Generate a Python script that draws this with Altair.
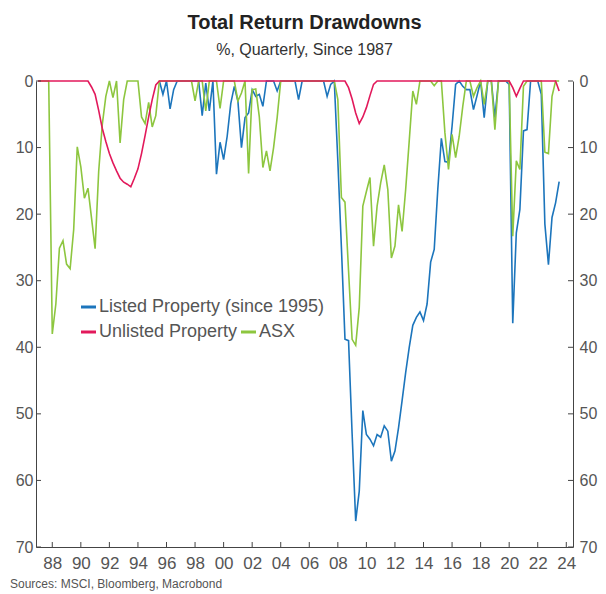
import altair as alt
import pandas as pd

FONT = "Liberation Sans"

# ---------------- data (quarterly drawdowns, %) ----------------
first_quarter = 1987.0          # first observation of Unlisted Property and ASX
listed_first_quarter = 1995.5   # Listed Property starts mid-1995

listed = [
    0, 2.0,
    0, 4.2, 1.3, 0,
    0, 0, 0, 0,
    0, 0, 5.2, 0.3,
    4.5, 0, 14.0, 9.2,
    11.8, 8.3, 3.4, 0.8,
    3.0, 10.0, 5.5, 4.8,
    1.3, 2.3, 2.0, 3.8,
    0, 0, 0, 1.5,
    0, 0, 0, 0,
    0, 2.8, 0, 0,
    0, 0, 0, 0,
    0, 2.3, 0.5, 0,
    12.0, 25.0, 38.8, 39.0,
    53.0, 66.1, 61.6, 49.5,
    53.1, 53.8, 54.8, 53.1,
    53.5, 51.8, 52.6, 57.1,
    55.6, 52.1, 48.0, 43.8,
    40.0, 36.7, 35.5, 34.7,
    36.0, 33.5, 27.2, 25.3,
    16.3, 8.6, 12.1, 12.2,
    6.8, 0.5, 0, 0.8,
    1.3, 1.3, 4.3, 2.2,
    0, 5.5, 0, 0,
    5.5, 0, 0, 0,
    0.5, 36.4, 22.8, 19.3,
    7.5, 7.3, 0, 0,
    0, 2.0, 21.5, 27.6,
    20.5, 18.3, 15.1,
]

unlisted = [
    0, 0, 0, 0,
    0, 0, 0, 0,
    0, 0, 0, 0,
    0, 0, 0, 0.9,
    2.0, 4.4, 7.1, 9.1,
    10.9, 12.3, 13.5, 14.6,
    15.2, 15.5, 15.9, 14.6,
    13.2, 10.9, 8.2, 5.4,
    2.8, 0.6, 0, 0,
    0, 0, 0, 0,
    0, 0, 0, 0,
    0, 0, 0, 0,
    0, 0, 0, 0,
    0, 0, 0, 0,
    0, 0, 0, 0,
    0, 0, 0, 0,
    0, 0, 0, 0,
    0, 0, 0, 0,
    0, 0, 0, 0,
    0, 0, 0, 0,
    0, 0, 0, 0,
    0, 0, 0, 1.0,
    2.7, 4.8, 6.4, 5.4,
    4.0, 2.2, 0.5, 0,
    0, 0, 0, 0,
    0, 0, 0, 0,
    0, 0, 0, 0,
    0, 0, 0, 0,
    0, 0, 0, 0,
    0, 0, 0, 0,
    0, 0, 0, 0,
    0, 0, 0, 0,
    0, 0, 0, 0,
    0, 1.0, 2.3, 1.1,
    0, 0, 0, 0,
    0, 0, 0, 0,
    0, 0, 1.5,
]

asx = [
    0, 0, 0, 0,
    38.0, 33.5, 25.1, 24.0,
    27.5, 28.2, 22.3, 9.9,
    12.9, 17.6, 16.1, 20.6,
    25.2, 13.6, 6.6, 2.3,
    0, 2.5, 0, 9.3,
    2.8, 0, 0, 0,
    0, 5.4, 6.4, 3.2,
    6.9, 5.2, 0, 0,
    0, 0, 0, 0,
    0, 0, 0, 0,
    3.0, 0, 0, 4.5,
    0, 0, 0, 4.1,
    0, 0, 0, 0,
    3.0, 1.8, 0, 13.9,
    1.3, 1.2, 5.4, 13.0,
    10.5, 13.5, 10.0, 5.5,
    0, 0, 0, 0,
    0, 0, 0, 0,
    0, 0, 0, 0,
    0, 0, 0, 0,
    2.8, 17.5, 18.2, 28.5,
    38.8, 39.7, 34.0, 18.8,
    16.6, 14.5, 24.8, 18.8,
    15.3, 12.6, 16.3, 26.6,
    24.8, 18.6, 22.6, 16.3,
    9.0, 1.5, 3.5, 0,
    0, 0, 0, 0.7,
    0, 0, 7.8, 13.3,
    8.0, 11.5, 8.3, 3.8,
    0, 0, 2.3, 1.0,
    0, 3.5, 0, 0,
    7.3, 0, 0, 0,
    0, 23.3, 12.0, 13.3,
    0.8, 0, 0, 0,
    0, 0, 10.7, 10.9,
    2.3, 0, 0,
]

series_names = ["Listed Property (since 1995)", "Unlisted Property", "ASX"]
series_colors = ["#1c75bc", "#e2195b", "#8dc63f"]
x_tick_years = list(range(1988, 2025, 2))
y_ticks = [0, 10, 20, 30, 40, 50, 60, 70]
title_text = "Total Return Drawdowns"
subtitle_text = "%, Quarterly, Since 1987"
source_text = "Sources: MSCI, Bloomberg, Macrobond"

# ---------------- tables ----------------
rows = []
for name, vals, start in [
    (series_names[0], listed, listed_first_quarter),
    (series_names[1], unlisted, first_quarter),
    (series_names[2], asx, first_quarter),
]:
    for k, v in enumerate(vals):
        rows.append({"series": name, "t": start + 0.25 * k, "value": v})
df = pd.DataFrame(rows)
xt_df = pd.DataFrame({"yr": x_tick_years})
yt_df = pd.DataFrame({"v": y_ticks})

W, H = 537, 466
AXIS_COLOR = "#444444"
LABEL_COLOR = "#555555"

x_scale = alt.Scale(domain=[1986.86, 2024.47], nice=False, zero=False)
y_scale = alt.Scale(domain=[0, 70], reverse=True, nice=False, zero=False)

x_axis = alt.Axis(
    orient="bottom",
    values=x_tick_years,
    labelExpr="substring(toString(datum.value), 2, 4)",
    tickSize=0, labelPadding=8, labelFontSize=17, labelColor=LABEL_COLOR,
    labelFont=FONT, domainColor=AXIS_COLOR, grid=False, title=None,
    labelFlush=False, labelOverlap=False,
)
y_axis_left = alt.Axis(
    orient="left", values=y_ticks, tickSize=0, labelPadding=3,
    labelFontSize=16, labelColor=LABEL_COLOR, labelFont=FONT,
    domainColor=AXIS_COLOR, grid=False, title=None,
)
y_axis_right = alt.Axis(
    orient="right", values=y_ticks, tickSize=0, labelPadding=6,
    labelFontSize=16, labelColor=LABEL_COLOR, labelFont=FONT,
    domainColor=AXIS_COLOR, grid=False, title=None,
)


def line_layer(i, with_y_axis):
    return (
        alt.Chart(df)
        .transform_filter(alt.datum.series == series_names[i])
        .mark_line(strokeWidth=1.6, color=series_colors[i])
        .encode(
            x=alt.X("t:Q", scale=x_scale, axis=x_axis),
            y=alt.Y("value:Q", scale=y_scale, axis=y_axis_left if with_y_axis else None),
        )
    )


lines = [line_layer(0, True), line_layer(2, False), line_layer(1, False)]

bottom_ticks = alt.Chart(xt_df).mark_rule(color=AXIS_COLOR, strokeWidth=1).encode(
    x=alt.X("yr:Q", scale=x_scale, axis=x_axis),
    y=alt.value(H - 5), y2=alt.value(H),
)
left_ticks = alt.Chart(yt_df).mark_rule(color=AXIS_COLOR, strokeWidth=1).encode(
    y=alt.Y("v:Q", scale=y_scale, axis=None),
    x=alt.value(0), x2=alt.value(5),
)
right_ticks = alt.Chart(yt_df).mark_rule(color=AXIS_COLOR, strokeWidth=1).encode(
    y=alt.Y("v:Q", scale=y_scale, axis=y_axis_right),
    x=alt.value(W - 5), x2=alt.value(W),
)


def legend_item(i, px, py):
    item = pd.DataFrame({"label": [series_names[i]]})
    sw = alt.Chart(item).mark_rule(color=series_colors[i], strokeWidth=3).encode(
        x=alt.value(px), x2=alt.value(px + 15), y=alt.value(py)
    )
    tx = alt.Chart(item).mark_text(
        align="left", baseline="middle", fontSize=18, font=FONT, color=LABEL_COLOR
    ).encode(x=alt.value(px + 18), y=alt.value(py), text="label:N")
    return [sw, tx]


legend_layers = (
    legend_item(0, 45, 226)
    + legend_item(1, 45, 251)
    + legend_item(2, 205, 251)
)

source = alt.Chart(pd.DataFrame({"s": [source_text]})).mark_text(
    align="left", baseline="alphabetic", fontSize=12, font=FONT, color=LABEL_COLOR
).encode(x=alt.value(-26), y=alt.value(507), text="s:N")

chart = (
    alt.layer(*lines, bottom_ticks, left_ticks, right_ticks, *legend_layers, source)
    .resolve_axis(y="independent")
    .properties(
        width=W,
        height=H,
        title=alt.TitleParams(
            text=title_text, subtitle=subtitle_text, anchor="middle", frame="group",
            font=FONT, fontSize=20, fontWeight="bold", color="#222222",
            subtitleFont=FONT, subtitleFontSize=16, subtitleColor="#333333",
            subtitlePadding=9, offset=15,
        ),
        autosize=alt.AutoSizeParams(type="none"),
        padding={"left": 28, "top": 73, "right": 25, "bottom": 47},
    )
    .configure_view(stroke=None)
)

chart.save("out.html", embed_options={"renderer": "svg", "actions": False})
